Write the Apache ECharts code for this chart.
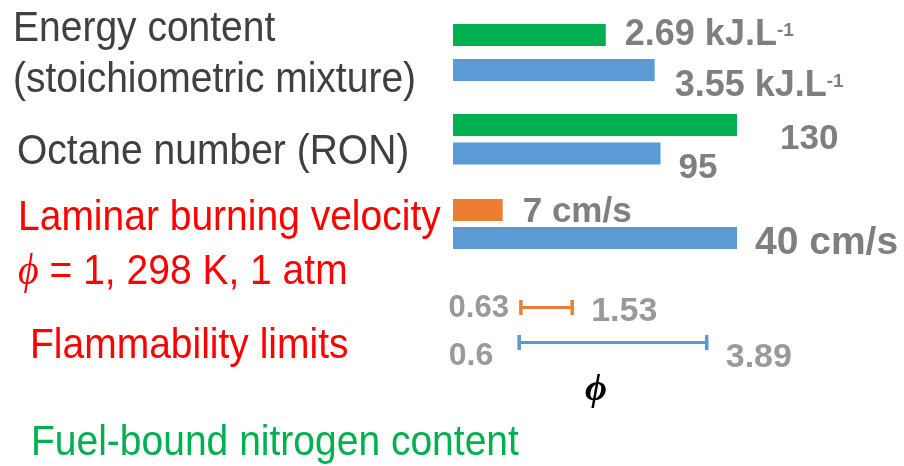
<!DOCTYPE html>
<html>
<head>
<meta charset="utf-8">
<script src="https://cdn.jsdelivr.net/npm/echarts@6/dist/echarts.min.js"></script>
<style>
  html, body { margin: 0; padding: 0; background: #ffffff; }
  #chart { width: 904px; height: 466px; }
</style>
</head>
<body>
<div id="chart"></div>
<script>
// Fuel property comparison: first row of each pair = ammonia, second row = reference fuel
const fuels = ['ammonia', 'reference fuel'];
const energyContent = [2.69, 3.55];      // kJ.L-1, stoichiometric mixture
const octaneNumber = [130, 95];          // RON
const burningVelocity = [7, 40];         // cm/s, phi = 1, 298 K, 1 atm
const flammabilityLean = [0.63, 0.6];    // phi
const flammabilityRich = [1.53, 3.89];   // phi

const energyUnit = 'kJ.L';
const energyExponent = '-1';
const velocityUnit = 'cm/s';

const GREEN = '#00b050';
const BLUE = '#5b9bd5';
const ORANGE = '#ed7d31';
const GREY = '#7f7f7f';
const DARK = '#404040';
const RED = '#ff0000';
const SANS = '"Liberation Sans", Arial, sans-serif';
const SERIF = '"Liberation Serif", "Times New Roman", serif';

// per-row label placement (size, gap from bar end, vertical shift)
const energyLabelStyle = [[36, 19, 0], [36, 20, 16]];
const octaneLabelStyle = [[35, 43, 14], [35, 18, 15]];
const velocityLabelStyle = [[35, 20, 2], [39, 18, 5]];
const leanLabelStyle = [[31, 12, 1], [32, 26, 14]];
const richLabelStyle = [[34, 19, 4], [34, 19, 15]];

function valueLabel(style, position, formatter) {
  return {
    show: true,
    position: position,
    distance: style[1],
    offset: [0, style[2]],
    fontFamily: SANS,
    fontWeight: 'bold',
    fontSize: style[0],
    color: GREY,
    formatter: formatter
  };
}

function barSeries(gridIndex, values, colors, labelStyles, formatter) {
  return {
    type: 'bar',
    xAxisIndex: gridIndex,
    yAxisIndex: gridIndex,
    barWidth: 22,
    silent: true,
    data: values.map((v, i) => ({
      value: v,
      itemStyle: { color: colors[i] },
      label: valueLabel(labelStyles[i], 'right', formatter)
    }))
  };
}

const energyFormatter = p =>
  '{v|' + p.value + ' ' + energyUnit + '}{s|' + energyExponent + '}';

const energyRich = {
  v: { fontFamily: SANS, fontWeight: 'bold', fontSize: 36, color: GREY },
  s: { fontFamily: SANS, fontWeight: 'bold', fontSize: 19, color: GREY,
       verticalAlign: 'top', padding: [4, 0, 0, 0] }
};

const energySeries = barSeries(0, energyContent, [GREEN, BLUE], energyLabelStyle, energyFormatter);
energySeries.data.forEach(d => { d.label.rich = energyRich; });

const octaneSeries = barSeries(1, octaneNumber, [GREEN, BLUE], octaneLabelStyle, p => String(p.value));
const velocitySeries = barSeries(2, burningVelocity, [ORANGE, BLUE], velocityLabelStyle,
  p => p.value + ' ' + velocityUnit);

const rangeColors = [ORANGE, BLUE];

// lean-to-rich limit ranges drawn as capped horizontal segments
const rangeSeries = {
  type: 'custom',
  xAxisIndex: 3,
  yAxisIndex: 3,
  silent: true,
  encode: { x: [0, 1], y: 2 },
  data: flammabilityLean.map((v, i) => [v, flammabilityRich[i], i]),
  renderItem: function (params, api) {
    const row = api.value(2);
    const a = api.coord([api.value(0), row]);
    const b = api.coord([api.value(1), row]);
    const c = rangeColors[params.dataIndex];
    const h = 7.5;
    return {
      type: 'group',
      children: [
        { type: 'line', shape: { x1: a[0], y1: a[1], x2: b[0], y2: b[1] },
          style: { stroke: c, lineWidth: 3 } },
        { type: 'line', shape: { x1: a[0], y1: a[1] - h, x2: a[0], y2: a[1] + h },
          style: { stroke: c, lineWidth: 3.5 } },
        { type: 'line', shape: { x1: b[0], y1: b[1] - h, x2: b[0], y2: b[1] + h },
          style: { stroke: c, lineWidth: 3.5 } }
      ]
    };
  }
};

function limitLabels(values, styles, position) {
  return {
    type: 'scatter',
    xAxisIndex: 3,
    yAxisIndex: 3,
    symbolSize: 0,
    silent: true,
    data: values.map((v, i) => ({
      value: [v, i],
      label: valueLabel(styles[i], position, p => String(p.value[0]))
    }))
  };
}

const grids = [
  { left: 453, top: 17.5, width: 284, height: 70 },
  { left: 453, top: 110.75, width: 284, height: 57 },
  { left: 453, top: 196, width: 284, height: 56 },
  { left: 485, top: 290, width: 285, height: 70 }
];
const axisMax = [5, 130, 40, 5];

function sideText(text, x, y, color, extra) {
  return Object.assign({
    type: 'text',
    x: x,
    y: y,
    scaleY: 1.1,
    silent: true,
    style: {
      x: 0, y: 0,
      text: text,
      fill: color,
      fontFamily: SANS,
      fontSize: 39,
      textVerticalAlign: 'middle'
    }
  }, extra || {});
}

const phiLine = sideText('{p|ϕ} = 1, 298 K, 1 atm', 18, 272, RED);
phiLine.style.rich = {
  p: { fontFamily: SERIF, fontStyle: 'italic', fontSize: 40, fill: RED, color: RED }
};

const option = {
  animation: false,
  backgroundColor: '#ffffff',
  grid: grids,
  xAxis: grids.map((g, i) => ({
    type: 'value', gridIndex: i, min: 0, max: axisMax[i], show: false
  })),
  yAxis: grids.map((g, i) => ({
    type: 'category', gridIndex: i, data: fuels, inverse: true, show: false
  })),
  series: [
    energySeries,
    octaneSeries,
    velocitySeries,
    rangeSeries,
    limitLabels(flammabilityLean, leanLabelStyle, 'left'),
    limitLabels(flammabilityRich, richLabelStyle, 'right')
  ],
  graphic: [
    sideText('Energy content', 13, 29, DARK),
    sideText('(stoichiometric mixture)', 13, 80, DARK),
    sideText('Octane number (RON)', 17, 152, DARK),
    sideText('Laminar burning velocity', 18, 218, RED),
    phiLine,
    sideText('Flammability limits', 30, 346, RED),
    sideText('Fuel-bound nitrogen content', 31, 443, GREEN),
    {
      type: 'text',
      x: 596,
      y: 390,
      silent: true,
      style: {
        text: 'ϕ',
        fill: '#000000',
        fontFamily: SERIF,
        fontStyle: 'italic',
        fontWeight: 'bold',
        fontSize: 38,
        textAlign: 'center',
        textVerticalAlign: 'middle'
      }
    }
  ]
};

const chart = echarts.init(document.getElementById('chart'), null, { renderer: 'canvas' });
chart.setOption(option);
</script>
</body>
</html>
